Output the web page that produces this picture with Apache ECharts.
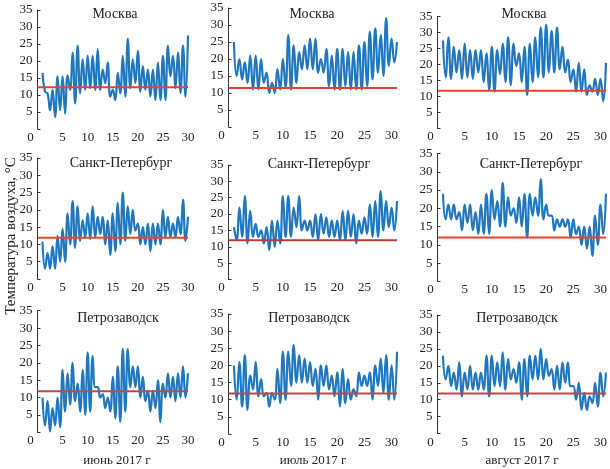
<!DOCTYPE html>
<html><head><meta charset="utf-8">
<script src="https://cdn.jsdelivr.net/npm/echarts@6/dist/echarts.min.js"></script>
<style>html,body{margin:0;padding:0;background:#fff}#c{width:610px;height:469px}</style>
</head><body><div id="c"></div>
<script>
// ---------- DATA ----------
const cities = ['Москва', 'Санкт-Петербург', 'Петрозаводск'];
const months = ['июнь 2017 г', 'июль 2017 г', 'август 2017 г'];
const monthDays = [30, 31, 31];
const xTickStep = 5;
const yMin = 0, yMax = 35, yTickStep = 5;
const yAxisTitle = 'Температура воздуха, °С';
// first sample at day 1, one sample every half day
const firstDay = 1;
const dayStep = 0.5;

const mskJun = [16.5, 11, 10.5, 5.5, 11.5, 3.5, 15.5, 5.5, 15.5, 4.5, 15.8, 11.5, 22.5, 7.5, 24.5, 10.5, 20.5, 11.5, 21.5, 12, 21.5, 11.5, 23.5, 11.5, 17.5, 13.5, 19.5, 9.5, 11.5, 8.5, 16.5, 10.5, 21.5, 9.5, 26.5, 12, 20.5, 13.5, 23, 11, 18.5, 11.5, 17.5, 9.5, 17.5, 8.5, 19.5, 8.5, 21.5, 8.5, 24.5, 15.5, 21.5, 12, 22.5, 10.5, 24.5, 9.5, 27.5];
const mskJul = [25, 15, 20, 14, 19, 13, 21, 11, 21, 11, 20, 13, 16, 10, 13, 10, 17, 11, 20, 11.5, 27, 11, 24, 13, 22, 17, 24, 17, 26, 17, 26, 16, 20, 16, 23, 12, 21, 11, 23, 11, 23, 12, 22, 11, 22, 11, 24, 11, 25, 12, 28, 14, 29, 16, 27, 15, 32, 18, 26, 19, 25];
const mskAug = [27.5, 16, 28.5, 15.5, 25.5, 17.5, 24.5, 15.5, 26.5, 16, 24.5, 15.5, 24.5, 17.5, 24.5, 14.5, 23.5, 12, 25.5, 11.5, 24.5, 17, 26.5, 14.5, 28.5, 13.5, 26.5, 19.5, 23.5, 14.5, 25.5, 10.5, 26.5, 14.5, 28.5, 16, 31.5, 16, 32.5, 17.5, 30.5, 17.5, 31.5, 18.5, 25.5, 17.5, 21.5, 14.5, 18.5, 11.5, 20.5, 11.5, 18.5, 10.5, 13.5, 11.5, 15.5, 10.5, 15.5, 8.5, 20.5];

const spbJun = [10.8, 3, 7.5, 3, 9.5, 3, 12.5, 5, 14.5, 5, 19, 10, 22.5, 9, 21, 11, 17, 12, 19, 11.5, 21, 12, 18, 13, 18, 10, 17, 7, 19, 8, 22, 10, 25, 11, 21, 13, 20, 14, 16, 10, 15, 10, 16, 8, 16, 10, 16, 10, 20, 12, 18, 12, 16, 12, 18, 13, 23, 11, 18];
const spbJul = [16, 12, 22, 13, 25.5, 11, 21, 13, 17, 13, 15, 11, 16, 9, 18, 10, 18, 11, 25.5, 13, 25.5, 13, 22, 16, 25.5, 15, 18, 15, 18, 13, 20, 12, 20, 14, 19, 13, 18, 13, 18, 12, 21, 12, 21, 13, 20, 11, 18, 14, 19, 14, 23, 13, 24, 13, 27, 15, 24, 16, 22, 15, 24];
const spbAug = [24, 17, 21, 17, 21, 17, 19, 14, 21, 16, 21, 14, 19, 13, 21, 13, 24, 13, 25, 17, 22, 15, 27, 15, 23, 18, 20, 16, 23, 15, 24, 12, 24, 18, 23, 18, 28, 17, 21, 18, 18, 14, 17, 15, 17, 15, 17, 12, 17, 13, 15, 10, 15, 9, 15, 7, 18, 10, 21, 13, 24];

const ptzJun = [10, 2, 9, 0.3, 7, 2, 10, 1.5, 18, 6, 17, 8, 20, 9, 14, 6, 18, 5, 23, 6, 22, 13, 13, 10, 11, 7, 10, 6, 16, 4, 19, 3, 24, 6, 24, 13, 19, 13, 19, 10, 16, 9, 12, 6, 12, 7, 15, 3, 14, 10, 17, 10, 16, 9, 17, 10, 19, 10, 17];
const ptzJul = [20, 10, 21, 8, 23, 7, 17, 13, 21, 11, 16, 11, 12, 8, 12, 10, 19, 9, 24, 10, 24, 14, 26, 15, 23, 15, 22, 15, 21, 14, 19, 10, 20, 14, 20, 13, 17, 11, 18, 8, 19, 9, 16, 10, 13, 11, 18, 14, 17, 14, 18, 10, 20, 14, 22, 12, 23, 10, 20, 10, 24];
const ptzAug = [23, 16, 20, 14, 18, 13, 21, 11, 18, 13, 20, 13, 18, 13, 18, 13, 23, 11, 23, 14, 21, 14, 24, 13, 22, 16, 19, 15, 21, 10, 22, 11, 23, 16, 23, 16, 25, 16, 22, 17, 19, 13, 20, 13, 21, 15, 21, 14, 14, 10, 15, 7, 12, 7, 11, 9, 15, 8, 18, 11, 18];

// climatic norm level (red line) per city row, month column
const normMsk = [12.3, 11.5, 11.8];
const normSpb = [11.9, 12.0, 12.0];
const normPtz = [11.8, 11.8, 11.8];

const temps = [[mskJun, mskJul, mskAug], [spbJun, spbJul, spbAug], [ptzJun, ptzJul, ptzAug]];
const norms = [normMsk, normSpb, normPtz];

// ---------- LAYOUT / STYLE ----------
const colX = [{ left: 37.5, width: 150.5 }, { left: 228.5, width: 168.5 }, { left: 437.5, width: 171 }];
const rowY = [
  [{ top: 10, h: 119 }, { top: 8, h: 119 }, { top: 16.5, h: 112 }],
  [{ top: 158, h: 121 }, { top: 165, h: 114.5 }, { top: 153.5, h: 128 }],
  [{ top: 310.7, h: 121.7 }, { top: 314, h: 120 }, { top: 315, h: 118.6 }]
];
const titlePos = [
  [[115, 14], [312, 14], [524, 14]],
  [[121, 163.5], [319, 164], [531, 164.5]],
  [[118, 318.5], [309, 318.5], [517, 318.5]]
];
const monthPos = [[117, 461], [313, 461], [522, 461]];
const redColors = [
  ['#e8402a', '#e8402a', '#e8402a'],
  ['#e4472a', '#b83a3a', '#e8402a'],
  ['#b84a48', '#b84a48', '#b84a48']
];
const FONT = '"Liberation Serif", "DejaVu Serif", serif';
const blue = '#1f77c0';

const grid = [], xAxis = [], yAxis = [], series = [], graphic = [];
for (let r = 0; r < 3; r++) {
  for (let c = 0; c < 3; c++) {
    const i = r * 3 + c;
    const xmax = monthDays[c];
    grid.push({ left: colX[c].left, width: colX[c].width, top: rowY[r][c].top, height: rowY[r][c].h, containLabel: false });
    xAxis.push({
      type: 'value', gridIndex: i, min: 0, max: xmax, interval: xTickStep,
      axisLine: { show: false }, axisTick: { show: false }, splitLine: { show: false },
      axisLabel: {
        margin: 2, color: '#222', fontFamily: FONT, fontSize: 13,
        formatter: v => (v === 0 ? '{z|0}' : (v % xTickStep === 0 ? String(v) : '')),
        rich: { z: { padding: [0, 14, 0, 0], fontFamily: FONT, fontSize: 13, color: '#222' } }
      }
    });
    yAxis.push({
      type: 'value', gridIndex: i, min: yMin, max: yMax, interval: yTickStep,
      axisLine: { show: true, lineStyle: { color: '#333', width: 1 } },
      axisTick: { show: true, inside: true, length: 3, lineStyle: { color: '#333' } },
      splitLine: { show: false },
      axisLabel: { margin: 5, color: '#222', fontFamily: FONT, fontSize: 13, formatter: v => (v === 0 ? '' : String(v)) }
    });
    const vals = temps[r][c];
    series.push({
      type: 'line', xAxisIndex: i, yAxisIndex: i, smooth: 0.45, showSymbol: false, silent: true,
      data: vals.map((v, k) => [firstDay + k * dayStep, v]),
      lineStyle: { color: blue, width: 2.2 }, itemStyle: { color: blue }, z: 2
    });
    series.push({
      type: 'line', xAxisIndex: i, yAxisIndex: i, showSymbol: false, silent: true,
      data: [[0, norms[r][c]], [xmax, norms[r][c]]],
      lineStyle: { color: redColors[r][c], width: 2 }, itemStyle: { color: redColors[r][c] }, z: 3
    });
    graphic.push({
      type: 'text', x: titlePos[r][c][0], y: titlePos[r][c][1],
      style: { text: cities[r], font: '14px ' + FONT, fill: '#222', textAlign: 'center', textVerticalAlign: 'middle' }
    });
  }
}
for (let c = 0; c < 3; c++) {
  graphic.push({
    type: 'text', x: monthPos[c][0], y: monthPos[c][1],
    style: { text: months[c], font: '13px ' + FONT, fill: '#222', textAlign: 'center', textVerticalAlign: 'middle' }
  });
}
graphic.push({
  type: 'text', x: 11, y: 236, rotation: Math.PI / 2,
  style: { text: yAxisTitle, font: '15px ' + FONT, fill: '#222', textAlign: 'center', textVerticalAlign: 'middle' }
});

const chart = echarts.init(document.getElementById('c'), null, { renderer: 'canvas' });
chart.setOption({ animation: false, backgroundColor: '#fff', grid, xAxis, yAxis, series, graphic });
</script>
</body></html>
